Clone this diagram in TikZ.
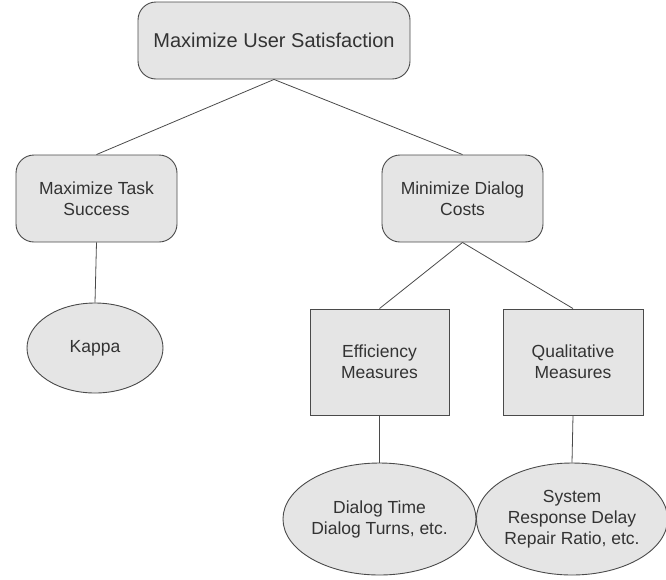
\documentclass[tikz,border=0pt]{standalone}
\usepackage{fontspec}
\setmainfont{Liberation Sans}
\usetikzlibrary{shapes.geometric}
\definecolor{boxfill}{HTML}{E5E5E5}
\definecolor{boxline}{HTML}{4A4A4A}
\definecolor{txt}{HTML}{333333}
\begin{document}
\begin{tikzpicture}[x=1pt,y=-1pt,
  base/.style={draw=boxline,fill=boxfill,line width=0.9pt,text=txt,align=center,inner sep=0pt,
    font=\fontsize{17.5}{21}\selectfont},
  rbox/.style={base,rectangle,rounded corners=18pt},
  sbox/.style={base,rectangle},
  ell/.style={base,ellipse},
  conn/.style={draw=boxline,line width=0.8pt}]
\useasboundingbox (0,0) rectangle (666,579);
\node[rbox,minimum width=272pt,minimum height=77pt,font=\fontsize{20}{24}\selectfont] (top) at (274,40.5) {Maximize User Satisfaction};
\node[rbox,minimum width=161pt,minimum height=87pt] (task) at (96.5,198.5) {Maximize Task\\Success};
\node[rbox,minimum width=161pt,minimum height=87pt] (cost) at (462.5,198.5) {Minimize Dialog\\Costs};
\node[ell,minimum width=136pt,minimum height=90pt] (kappa) at (95,348) {Kappa};
\node[sbox,minimum width=139pt,minimum height=106pt] (eff) at (379.5,362) {Efficiency\\Measures};
\node[sbox,minimum width=140pt,minimum height=106pt] (qual) at (573,362) {Qualitative\\Measures};
\node[ell,minimum width=169pt,minimum height=112pt] (dt) at (379.5,519) {Dialog Time\\Dialog Turns, etc.};
\node[ell,minimum width=168pt,minimum height=112pt] (sr) at (572,519) {System\\Response Delay\\Repair Ratio, etc.};
\draw[conn] (top.south) -- (task.north);
\draw[conn] (top.south) -- (cost.north);
\draw[conn] (task.south) -- (kappa.north);
\draw[conn] (cost.south) -- (eff.north);
\draw[conn] (cost.south) -- (qual.north);
\draw[conn] (eff.south) -- (dt.north);
\draw[conn] (qual.south) -- (sr.north);
\end{tikzpicture}
\end{document}
